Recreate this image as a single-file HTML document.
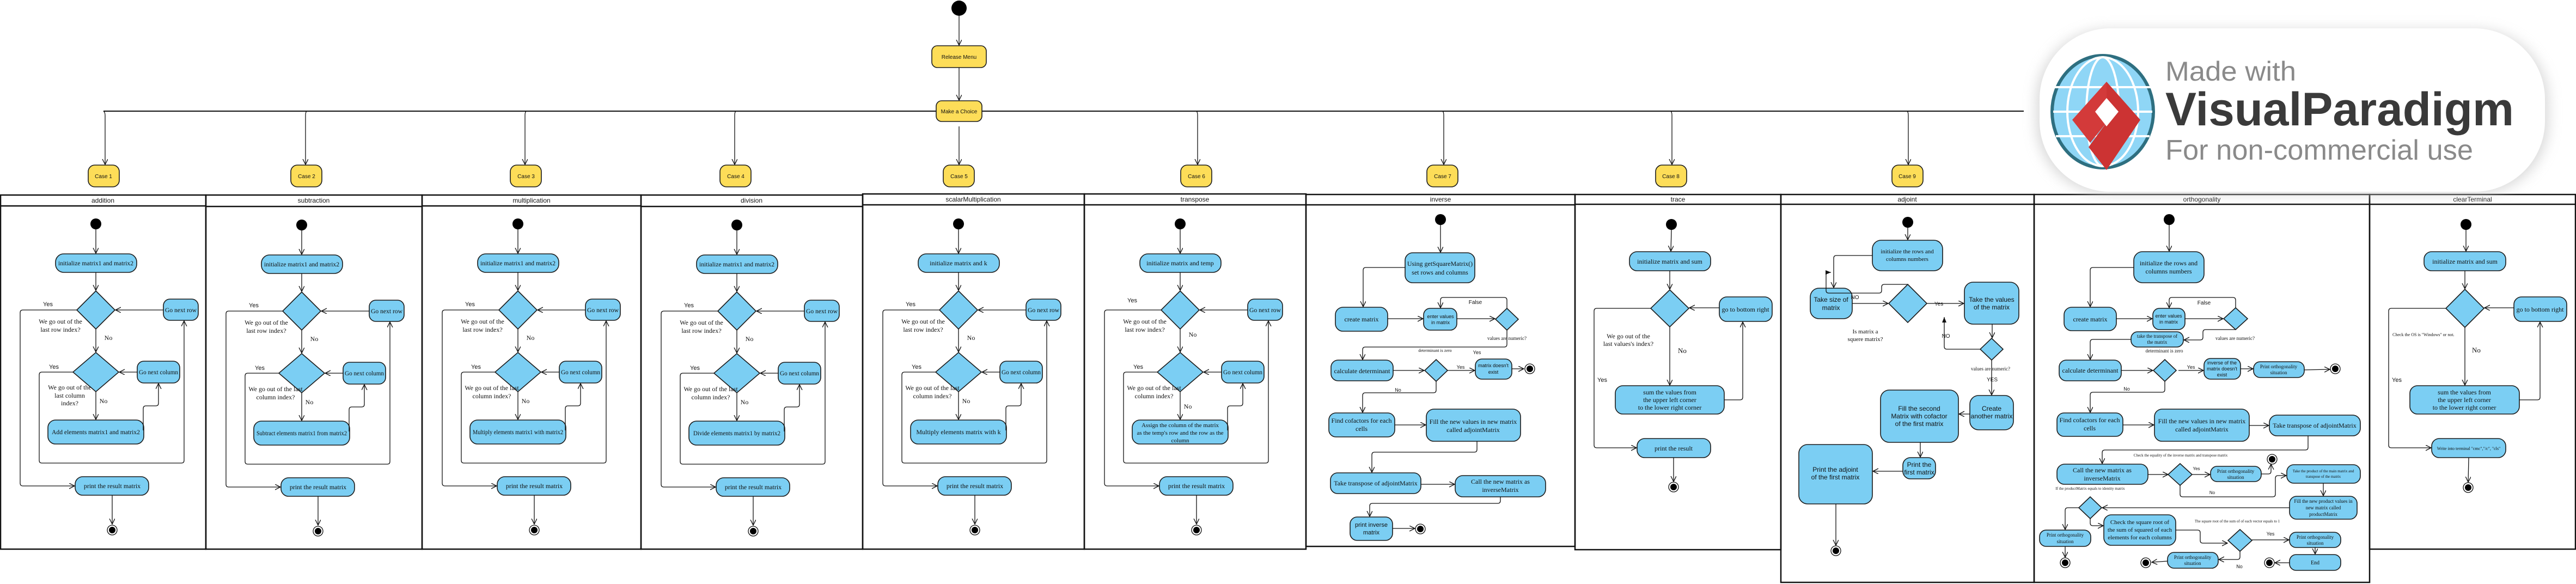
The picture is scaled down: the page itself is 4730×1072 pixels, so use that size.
<!DOCTYPE html>
<html><head><meta charset="utf-8"><style>
html,body{margin:0;padding:0;background:#fff;}
svg{display:block;}
.b{fill:#7BCEF3;stroke:#1c1c1c;stroke-width:1.6;}
.y{fill:#FDDD58;stroke:#1c1c1c;stroke-width:1.6;}
.l{fill:none;stroke:#111;stroke-width:1.3;}
.s{font-family:"Liberation Serif",serif;font-size:12px;fill:#111;text-anchor:middle;}
.ss{font-family:"Liberation Sans",sans-serif;font-size:11px;fill:#111;text-anchor:middle;}
.h{font-family:"Liberation Sans",sans-serif;font-size:12px;fill:#111;text-anchor:middle;}
.ln{fill:none;stroke:#111;stroke-width:2.5;}
</style></head><body>
<svg width="4730" height="1072" viewBox="0 0 4730 1072" xmlns="http://www.w3.org/2000/svg">
<defs>
<marker id="a" markerWidth="12" markerHeight="12" refX="10" refY="5" orient="auto" markerUnits="userSpaceOnUse"><path d="M0,0 L10,5 L0,10" fill="none" stroke="#111" stroke-width="1.3"/></marker>
<marker id="f" markerWidth="12" markerHeight="12" refX="10" refY="5" orient="auto" markerUnits="userSpaceOnUse"><path d="M0,1 L10,5 L0,9 Z" fill="#111"/></marker>
<filter id="sh" x="-10%" y="-20%" width="120%" height="140%"><feGaussianBlur stdDeviation="12"/></filter>
<g id="tpl">
 <circle cx="176" cy="411" r="10" fill="#000"/>
 <line class="l" x1="176" y1="421" x2="176" y2="465" marker-end="url(#a)"/>
 <rect class="b" x="102" y="466" width="149" height="34" rx="15"/>
 <line class="l" x1="176" y1="500" x2="176" y2="533" marker-end="url(#a)"/>
 <polygon class="b" points="176,534 211,569 176,604 141,569"/>
 <rect class="b" x="300" y="549" width="64" height="39" rx="12"/>
 <line class="l" x1="300" y1="569" x2="212" y2="569" marker-end="url(#a)"/>
 <path class="l" d="M141,569 H42 Q37,569 37,574 V887 Q37,892 42,892 H137" marker-end="url(#a)"/>
 <line class="l" x1="176" y1="604" x2="176" y2="646" marker-end="url(#a)"/>
 <polygon class="b" points="176,647 218,683 176,719 134,683"/>
 <rect class="b" x="252" y="663" width="78" height="40" rx="12"/>
 <line class="l" x1="252" y1="683" x2="219" y2="683" marker-end="url(#a)"/>
 <path class="l" d="M134,683 H77 Q72,683 72,688 V845 Q72,850 77,850 H333 Q338,850 338,845 V589" marker-end="url(#a)"/>
 <line class="l" x1="176" y1="719" x2="176" y2="770" marker-end="url(#a)"/>
 <rect class="b" x="88" y="771" width="176" height="44" rx="14"/>
 <path class="l" d="M263,790 V750 Q263,745 268,745 H286 Q291,745 291,740 V704" marker-end="url(#a)"/>
 <rect class="b" x="138" y="875" width="135" height="34" rx="14"/>
 <line class="l" x1="206" y1="909" x2="206" y2="962" marker-end="url(#a)"/>
 <circle cx="206" cy="973" r="9" fill="#fff" stroke="#111" stroke-width="1.3"/>
 <circle cx="206" cy="973" r="6" fill="#000"/>
</g>
</defs>
<rect width="4730" height="1072" fill="#fff"/>

<!-- top flow -->
<circle cx="1761" cy="15" r="14" fill="#000"/>
<line class="l" x1="1761" y1="29" x2="1761" y2="83" marker-end="url(#a)"/>
<rect class="y" x="1711" y="84" width="100" height="40" rx="10"/>
<text class="ss" x="1761" y="108" style="font-size:10px">Release Menu</text>
<line class="l" x1="1761" y1="124" x2="1761" y2="184" marker-end="url(#a)"/>
<line x1="190" y1="204" x2="3716" y2="204" stroke="#111" stroke-width="2"/>
<rect class="y" x="1719" y="185" width="84" height="38" rx="10"/>
<text class="ss" x="1761" y="208" style="font-size:10px">Make a Choice</text>
<g class="l">
<path d="M190,204 Q193,206 193,212 V302" marker-end="url(#a)"/>
<path d="M563,204 Q561,206 561,212 V302" marker-end="url(#a)"/>
<path d="M966,204 Q964,206 964,212 V302" marker-end="url(#a)"/>
<path d="M1351,204 Q1349,206 1349,212 V302" marker-end="url(#a)"/>
<path d="M1761,232 V302" marker-end="url(#a)"/>
<path d="M2197,204 Q2199,206 2199,212 V302" marker-end="url(#a)"/>
<path d="M2649,204 Q2651,206 2651,212 V302" marker-end="url(#a)"/>
<path d="M3068,204 Q3070,206 3070,212 V302" marker-end="url(#a)"/>
<path d="M3502,204 Q3504,206 3504,212 V302" marker-end="url(#a)"/>
</g>
<g>
<rect class="y" x="162" y="303" width="57" height="40" rx="12"/><text class="ss" x="190" y="327" style="font-size:10px">Case 1</text>
<rect class="y" x="534" y="303" width="57" height="40" rx="12"/><text class="ss" x="563" y="327" style="font-size:10px">Case 2</text>
<rect class="y" x="937" y="303" width="57" height="40" rx="12"/><text class="ss" x="966" y="327" style="font-size:10px">Case 3</text>
<rect class="y" x="1322" y="303" width="57" height="40" rx="12"/><text class="ss" x="1351" y="327" style="font-size:10px">Case 4</text>
<rect class="y" x="1732" y="303" width="57" height="40" rx="12"/><text class="ss" x="1761" y="327" style="font-size:10px">Case 5</text>
<rect class="y" x="2168" y="303" width="57" height="40" rx="12"/><text class="ss" x="2197" y="327" style="font-size:10px">Case 6</text>
<rect class="y" x="2620" y="303" width="57" height="40" rx="12"/><text class="ss" x="2649" y="327" style="font-size:10px">Case 7</text>
<rect class="y" x="3040" y="303" width="57" height="40" rx="12"/><text class="ss" x="3068" y="327" style="font-size:10px">Case 8</text>
<rect class="y" x="3474" y="303" width="57" height="40" rx="12"/><text class="ss" x="3502" y="327" style="font-size:10px">Case 9</text>
</g>

<!-- panels -->
<g>
<rect class="ln" x="1" y="358" width="377" height="650"/><line class="ln" x1="1" y1="378" x2="378" y2="378"/><text class="h" x="189" y="372">addition</text>
<rect class="ln" x="378" y="358" width="397" height="650"/><line class="ln" x1="378" y1="379" x2="775" y2="379"/><text class="h" x="576" y="372">subtraction</text>
<rect class="ln" x="775" y="358" width="402" height="650"/><line class="ln" x1="775" y1="378" x2="1177" y2="378"/><text class="h" x="976" y="372">multiplication</text>
<rect class="ln" x="1177" y="358" width="407" height="650"/><line class="ln" x1="1177" y1="379" x2="1584" y2="379"/><text class="h" x="1380" y="372">division</text>
<rect class="ln" x="1584" y="356" width="407" height="652"/><line class="ln" x1="1584" y1="376" x2="1991" y2="376"/><text class="h" x="1787" y="370">scalarMultiplication</text>
<rect class="ln" x="1991" y="356" width="407" height="652"/><line class="ln" x1="1991" y1="376" x2="2398" y2="376"/><text class="h" x="2194" y="370">transpose</text>
<rect class="ln" x="2398" y="357" width="494" height="646"/><line class="ln" x1="2398" y1="376" x2="2892" y2="376"/><text class="h" x="2645" y="370">inverse</text>
<rect class="ln" x="2892" y="357" width="378" height="652"/><line class="ln" x1="2892" y1="375" x2="3270" y2="375"/><text class="h" x="3081" y="370">trace</text>
<rect class="ln" x="3270" y="357" width="465" height="712"/><line class="ln" x1="3270" y1="375" x2="3735" y2="375"/><text class="h" x="3502" y="370">adjoint</text>
<rect class="ln" x="3735" y="357" width="616" height="712"/><line class="ln" x1="3735" y1="375" x2="4351" y2="375"/><text class="h" x="4043" y="370">orthogonality</text>
<rect class="ln" x="4351" y="357" width="378" height="651"/><line class="ln" x1="4351" y1="375" x2="4729" y2="375"/><text class="h" x="4540" y="370">clearTerminal</text>
</g>

<!-- panels 1-6 -->
<use href="#tpl" x="0" y="0"/>
<g>
<text class="s" x="176" y="487" textLength="138" lengthAdjust="spacingAndGlyphs">initialize matrix1 and matrix2</text>
<text class="s" x="332" y="573" textLength="58" lengthAdjust="spacingAndGlyphs">Go next row</text>
<text class="s" x="291" y="687" textLength="72" lengthAdjust="spacingAndGlyphs">Go next column</text>
<text class="s" x="176" y="797" textLength="162" lengthAdjust="spacingAndGlyphs">Add elements matrix1 and matrix2</text>
<text class="s" x="206" y="896">print the result matrix</text>
<text class="ss" x="88" y="562">Yes</text><text class="s" x="111" y="594">We go out of the</text><text class="s" x="111" y="609">last row index?</text><text class="s" x="199" y="624">No</text>
<text class="ss" x="99" y="677">Yes</text><text class="s" x="128" y="715">We go out of the</text><text class="s" x="128" y="730">last column</text><text class="s" x="128" y="744">index?</text><text class="s" x="190" y="740">No</text>
</g>
<use href="#tpl" x="378" y="2"/>
<g transform="translate(378,2)">
<text class="s" x="176" y="487" textLength="138" lengthAdjust="spacingAndGlyphs">initialize matrix1 and matrix2</text>
<text class="s" x="332" y="573" textLength="58" lengthAdjust="spacingAndGlyphs">Go next row</text>
<text class="s" x="291" y="687" textLength="72" lengthAdjust="spacingAndGlyphs">Go next column</text>
<text class="s" x="176" y="797" textLength="166" lengthAdjust="spacingAndGlyphs">Subtract elements matrix1 from matrix2</text>
<text class="s" x="206" y="896">print the result matrix</text>
<text class="ss" x="88" y="562">Yes</text><text class="s" x="111" y="594">We go out of the</text><text class="s" x="111" y="609">last row index?</text><text class="s" x="199" y="624">No</text>
<text class="ss" x="99" y="677">Yes</text><text class="s" x="128" y="716">We go out of the last</text><text class="s" x="128" y="731">column index?</text><text class="s" x="190" y="740">No</text>
</g>
<use href="#tpl" x="775" y="0"/>
<g transform="translate(775,0)">
<text class="s" x="176" y="487" textLength="138" lengthAdjust="spacingAndGlyphs">initialize matrix1 and matrix2</text>
<text class="s" x="332" y="573" textLength="58" lengthAdjust="spacingAndGlyphs">Go next row</text>
<text class="s" x="291" y="687" textLength="72" lengthAdjust="spacingAndGlyphs">Go next column</text>
<text class="s" x="176" y="797" textLength="166" lengthAdjust="spacingAndGlyphs">Multiply elements matrix1 with matrix2</text>
<text class="s" x="206" y="896">print the result matrix</text>
<text class="ss" x="88" y="562">Yes</text><text class="s" x="111" y="594">We go out of the</text><text class="s" x="111" y="609">last row index?</text><text class="s" x="199" y="624">No</text>
<text class="ss" x="99" y="677">Yes</text><text class="s" x="128" y="716">We go out of the last</text><text class="s" x="128" y="731">column index?</text><text class="s" x="190" y="740">No</text>
</g>
<use href="#tpl" x="1177" y="2"/>
<g transform="translate(1177,2)">
<text class="s" x="176" y="487" textLength="138" lengthAdjust="spacingAndGlyphs">initialize matrix1 and matrix2</text>
<text class="s" x="332" y="573" textLength="58" lengthAdjust="spacingAndGlyphs">Go next row</text>
<text class="s" x="291" y="687" textLength="72" lengthAdjust="spacingAndGlyphs">Go next column</text>
<text class="s" x="176" y="797" textLength="160" lengthAdjust="spacingAndGlyphs">Divide elements matrix1 by matrix2</text>
<text class="s" x="206" y="896">print the result matrix</text>
<text class="ss" x="88" y="562">Yes</text><text class="s" x="111" y="594">We go out of the</text><text class="s" x="111" y="609">last row index?</text><text class="s" x="199" y="624">No</text>
<text class="ss" x="99" y="677">Yes</text><text class="s" x="128" y="716">We go out of the last</text><text class="s" x="128" y="731">column index?</text><text class="s" x="190" y="740">No</text>
</g>
<use href="#tpl" x="1584" y="0"/>
<g transform="translate(1584,0)">
<text class="s" x="176" y="487">initialize matrix and k</text>
<text class="s" x="332" y="573" textLength="58" lengthAdjust="spacingAndGlyphs">Go next row</text>
<text class="s" x="291" y="687" textLength="72" lengthAdjust="spacingAndGlyphs">Go next column</text>
<text class="s" x="176" y="797">Multiply elements matrix with k</text>
<text class="s" x="206" y="896">print the result matrix</text>
<text class="ss" x="88" y="562">Yes</text><text class="s" x="111" y="594">We go out of the</text><text class="s" x="111" y="609">last row index?</text><text class="s" x="199" y="624">No</text>
<text class="ss" x="99" y="677">Yes</text><text class="s" x="128" y="716">We go out of the last</text><text class="s" x="128" y="731">column index?</text><text class="s" x="190" y="740">No</text>
</g>
<use href="#tpl" x="1991" y="0"/>
<g transform="translate(1991,0)">
<text class="s" x="176" y="487">initialize matrix and temp</text>
<text class="s" x="332" y="573" textLength="58" lengthAdjust="spacingAndGlyphs">Go next row</text>
<text class="s" x="291" y="687" textLength="72" lengthAdjust="spacingAndGlyphs">Go next column</text>
<text class="s" x="176" y="784" style="font-size:11px">Assign the column of the matrix</text>
<text class="s" x="176" y="798" style="font-size:11px">as the temp's row and the row as the</text>
<text class="s" x="176" y="812" style="font-size:11px">column</text>
<text class="s" x="206" y="896">print the result matrix</text>
<text class="ss" x="88" y="555">Yes</text><text class="s" x="111" y="594">We go out of the</text><text class="s" x="111" y="609">last row index?</text><text class="s" x="199" y="618">No</text>
<text class="ss" x="99" y="677">Yes</text><text class="s" x="128" y="716">We go out of the last</text><text class="s" x="128" y="731">column index?</text><text class="s" x="190" y="750">No</text>
</g>

<!-- inverse -->
<g>
<circle cx="2645" cy="403" r="10" fill="#000"/>
<line class="l" x1="2645" y1="413" x2="2645" y2="463" marker-end="url(#a)"/>
<rect class="b" x="2580" y="464" width="128" height="55" rx="14"/>
<text class="s" x="2644" y="488">Using getSquareMatrix()</text><text class="s" x="2644" y="504">set rows and columns</text>
<path class="l" d="M2580,491 H2508 Q2503,491 2503,496 V563" marker-end="url(#a)"/>
<rect class="b" x="2452" y="564" width="96" height="44" rx="14"/><text class="s" x="2500" y="590">create matrix</text>
<line class="l" x1="2548" y1="585" x2="2613" y2="585" marker-end="url(#a)"/>
<rect class="b" x="2614" y="566" width="61" height="40" rx="12"/>
<text class="ss" x="2645" y="584" style="font-size:9px">enter values</text><text class="ss" x="2645" y="595" style="font-size:9px">in matrix</text>
<line class="l" x1="2675" y1="585" x2="2745" y2="585" marker-end="url(#a)"/>
<polygon class="b" points="2767,566 2788,586 2767,606 2746,586"/>
<path class="l" d="M2767,566 V551 Q2767,546 2762,546 H2650 Q2645,546 2645,551 V565" marker-end="url(#a)"/>
<text class="ss" x="2709" y="558" style="font-size:10px">False</text>
<text class="s" x="2767" y="624" style="font-size:9px">values are numeric?</text>
<path class="l" d="M2767,606 V632 Q2767,637 2762,637 H2507 Q2502,637 2502,642 V660" marker-end="url(#a)"/>
<text class="s" x="2635" y="646" style="font-size:8px">determinant is zero</text>
<text class="ss" x="2712" y="650" style="font-size:9px">Yes</text>
<rect class="b" x="2444" y="661" width="114" height="38" rx="13"/><text class="s" x="2501" y="685">calculate determinant</text>
<line class="l" x1="2558" y1="680" x2="2615" y2="680" marker-end="url(#a)"/>
<polygon class="b" points="2637,660 2658,680 2637,700 2616,680"/>
<line class="l" x1="2658" y1="680" x2="2708" y2="680" marker-end="url(#a)"/>
<text class="ss" x="2682" y="677" style="font-size:9px">Yes</text>
<rect class="b" x="2709" y="659" width="67" height="37" rx="12"/>
<text class="ss" x="2742" y="674" style="font-size:9px">matrix doesn't</text><text class="ss" x="2742" y="686" style="font-size:9px">exist</text>
<line class="l" x1="2776" y1="677" x2="2798" y2="677" marker-end="url(#a)"/>
<circle cx="2809" cy="677" r="9" fill="#fff" stroke="#111" stroke-width="1.3"/><circle cx="2809" cy="677" r="6" fill="#000"/>
<path class="l" d="M2637,700 V716 Q2637,721 2632,721 H2507 Q2502,721 2502,726 V757" marker-end="url(#a)"/>
<text class="ss" x="2567" y="719" style="font-size:9px">No</text>
<rect class="b" x="2440" y="758" width="121" height="44" rx="13"/>
<text class="s" x="2500" y="776">Find cofactors for each</text><text class="s" x="2500" y="791">cells</text>
<line class="l" x1="2561" y1="780" x2="2618" y2="780" marker-end="url(#a)"/>
<rect class="b" x="2619" y="751" width="173" height="59" rx="14"/>
<text class="s" x="2705" y="778">Fill the new values in new matrix</text><text class="s" x="2705" y="793">called adjointMatrix</text>
<path class="l" d="M2712,810 V825 Q2712,830 2707,830 H2524 Q2519,830 2519,835 V867" marker-end="url(#a)"/>
<rect class="b" x="2443" y="868" width="166" height="38" rx="13"/><text class="s" x="2526" y="891">Take transpose of adjointMatrix</text>
<line class="l" x1="2609" y1="889" x2="2671" y2="889" marker-end="url(#a)"/>
<rect class="b" x="2672" y="873" width="166" height="39" rx="14"/>
<text class="s" x="2755" y="888">Call the new matrix as</text><text class="s" x="2755" y="903">inverseMatrix</text>
<path class="l" d="M2755,912 V919 Q2755,924 2750,924 H2520 Q2515,924 2515,929 V948" marker-end="url(#a)"/>
<rect class="b" x="2479" y="949" width="78" height="43" rx="13"/>
<text class="ss" x="2518" y="967" style="font-size:11px">print inverse</text><text class="ss" x="2518" y="981" style="font-size:11px">matrix</text>
<line class="l" x1="2557" y1="970" x2="2598" y2="970" marker-end="url(#a)"/>
<circle cx="2608" cy="971" r="9" fill="#fff" stroke="#111" stroke-width="1.3"/><circle cx="2608" cy="971" r="6" fill="#000"/>
</g>

<!-- trace -->
<g>
<circle cx="3069" cy="412" r="10" fill="#000"/>
<line class="l" x1="3069" y1="422" x2="3068" y2="461" marker-end="url(#a)"/>
<rect class="b" x="2992" y="462" width="149" height="35" rx="14"/><text class="s" x="3066" y="484">initialize matrix and sum</text>
<line class="l" x1="3066" y1="497" x2="3066" y2="531" marker-end="url(#a)"/>
<polygon class="b" points="3066,532 3101,566 3066,600 3031,566"/>
<rect class="b" x="3157" y="545" width="97" height="45" rx="14"/><text class="s" x="3205" y="572">go to bottom right</text>
<line class="l" x1="3157" y1="565" x2="3102" y2="565" marker-end="url(#a)"/>
<line class="l" x1="3066" y1="600" x2="3066" y2="707" marker-end="url(#a)"/>
<rect class="b" x="2966" y="708" width="200" height="52" rx="14"/>
<text class="s" x="3066" y="724">sum the values from</text><text class="s" x="3066" y="738">the upper left corner</text><text class="s" x="3066" y="752">to the lower right corner</text>
<path class="l" d="M3166,734 H3195 Q3200,734 3200,729 V591" marker-end="url(#a)"/>
<path class="l" d="M3031,566 H2932 Q2927,566 2927,571 V817 Q2927,822 2932,822 H3005" marker-end="url(#a)"/>
<rect class="b" x="3006" y="805" width="135" height="35" rx="14"/><text class="s" x="3073" y="827">print the result</text>
<line class="l" x1="3073" y1="840" x2="3073" y2="884" marker-end="url(#a)"/>
<circle cx="3073" cy="894" r="9" fill="#fff" stroke="#111" stroke-width="1.3"/><circle cx="3073" cy="894" r="6" fill="#000"/>
<text class="s" x="2990" y="621">We go out of the</text><text class="s" x="2990" y="635">last values's index?</text>
<text class="s" x="3089" y="648" style="font-size:13px">No</text>
<text class="ss" x="2942" y="701">Yes</text>
</g>

<!-- adjoint -->
<g>
<circle cx="3503" cy="408" r="10" fill="#000"/>
<line class="l" x1="3503" y1="418" x2="3503" y2="440" marker-end="url(#a)"/>
<rect class="b" x="3438" y="441" width="129" height="56" rx="16"/>
<text class="s" x="3502" y="465" style="font-size:11px">initialize the rows and</text><text class="s" x="3502" y="479" style="font-size:11px">columns numbers</text>
<path class="l" d="M3438,469 H3372 Q3367,469 3367,474 V528" marker-end="url(#a)"/>
<rect class="b" x="3324" y="529" width="77" height="56" rx="16"/>
<text class="ss" x="3362" y="554" style="font-size:12px">Take size of</text><text class="ss" x="3362" y="569" style="font-size:12px">matrix</text>
<path class="l" d="M3503,522 H3460 Q3455,522 3455,527 V533 Q3455,538 3450,538 H3358 Q3353,538 3353,533 V505 Q3353,500 3358,500 H3362" marker-end="url(#f)"/>
<text class="ss" x="3406" y="549" style="font-size:10px">NO</text>
<line class="l" x1="3401" y1="557" x2="3467" y2="557" marker-end="url(#a)"/>
<polygon class="b" points="3503,522 3538,557 3503,592 3468,557"/>
<text class="s" x="3425" y="612" style="font-size:11px">Is matrix a</text><text class="s" x="3425" y="626" style="font-size:11px">squere matrix?</text>
<line class="l" x1="3538" y1="557" x2="3606" y2="557" marker-end="url(#a)"/>
<text class="ss" x="3560" y="561" style="font-size:10px">Yes</text>
<rect class="b" x="3607" y="518" width="100" height="77" rx="16"/>
<text class="ss" x="3657" y="554" style="font-size:12px">Take the values</text><text class="ss" x="3657" y="568" style="font-size:12px">of the matrix</text>
<line class="l" x1="3658" y1="595" x2="3658" y2="620" marker-end="url(#a)"/>
<polygon class="b" points="3657,621 3678,641 3657,661 3636,641"/>
<path class="l" d="M3636,641 H3575 Q3570,641 3570,636 V582" marker-end="url(#f)"/>
<text class="ss" x="3573" y="620" style="font-size:10px">NO</text>
<text class="s" x="3655" y="680" style="font-size:9px">values are numeric?</text>
<text class="ss" x="3658" y="700" style="font-size:10px">YES</text>
<line class="l" x1="3657" y1="661" x2="3657" y2="725" marker-end="url(#a)"/>
<rect class="b" x="3617" y="726" width="80" height="63" rx="16"/>
<text class="ss" x="3657" y="754" style="font-size:12px">Create</text><text class="ss" x="3657" y="768" style="font-size:12px">another matrix</text>
<line class="l" x1="3617" y1="760" x2="3597" y2="760" marker-end="url(#a)"/>
<rect class="b" x="3453" y="716" width="143" height="96" rx="16"/>
<text class="ss" x="3524" y="754" style="font-size:12px">Fill the second</text><text class="ss" x="3524" y="768" style="font-size:12px">Matrix with cofactor</text><text class="ss" x="3524" y="782" style="font-size:12px">of the first matrix</text>
<line class="l" x1="3526" y1="812" x2="3526" y2="839" marker-end="url(#a)"/>
<rect class="b" x="3494" y="840" width="60" height="39" rx="14"/>
<text class="ss" x="3524" y="857" style="font-size:12px">Print the</text><text class="ss" x="3524" y="871" style="font-size:12px">first matrix</text>
<line class="l" x1="3494" y1="865" x2="3439" y2="865" marker-end="url(#a)"/>
<rect class="b" x="3303" y="816" width="135" height="109" rx="16"/>
<text class="ss" x="3370" y="866" style="font-size:12px">Print the adjoint</text><text class="ss" x="3370" y="880" style="font-size:12px">of the first matrix</text>
<line class="l" x1="3371" y1="925" x2="3371" y2="1001" marker-end="url(#a)"/>
<circle cx="3371" cy="1011" r="9" fill="#fff" stroke="#111" stroke-width="1.3"/><circle cx="3371" cy="1011" r="6" fill="#000"/>
</g>

<!-- orthogonality -->
<g>
<circle cx="3983" cy="403" r="10" fill="#000"/>
<line class="l" x1="3983" y1="413" x2="3983" y2="461" marker-end="url(#a)"/>
<rect class="b" x="3918" y="462" width="129" height="57" rx="16"/>
<text class="s" x="3982" y="487">initialize the rows and</text><text class="s" x="3982" y="502">columns numbers</text>
<path class="l" d="M3918,491 H3843 Q3838,491 3838,496 V563" marker-end="url(#a)"/>
<rect class="b" x="3790" y="564" width="96" height="43" rx="14"/><text class="s" x="3838" y="590">create matrix</text>
<line class="l" x1="3886" y1="585" x2="3952" y2="585" marker-end="url(#a)"/>
<rect class="b" x="3953" y="566" width="59" height="39" rx="12"/>
<text class="ss" x="3982" y="583" style="font-size:9px">enter values</text><text class="ss" x="3982" y="594" style="font-size:9px">in matrix</text>
<line class="l" x1="4012" y1="585" x2="4082" y2="585" marker-end="url(#a)"/>
<polygon class="b" points="4105,565 4127,585 4105,605 4083,585"/>
<path class="l" d="M4105,565 V551 Q4105,546 4100,546 H3988 Q3983,546 3983,551 V565" marker-end="url(#a)"/>
<text class="ss" x="4047" y="559" style="font-size:10px">False</text>
<path class="l" d="M4105,605 H4050 Q4045,605 4045,610 V619 Q4045,624 4040,624 H4010" marker-end="url(#a)"/>
<text class="s" x="4104" y="624" style="font-size:9px">values are numeric?</text>
<rect class="b" x="3913" y="609" width="96" height="28" rx="12"/>
<text class="s" x="3961" y="620" style="font-size:9px">take the transpose of</text><text class="s" x="3961" y="631" style="font-size:9px">the matrix</text>
<text class="s" x="3974" y="647" style="font-size:9px">determinant is zero</text>
<path class="l" d="M3913,623 H3843 Q3838,623 3838,628 V660" marker-end="url(#a)"/>
<rect class="b" x="3781" y="661" width="114" height="38" rx="13"/><text class="s" x="3838" y="684">calculate determinant</text>
<line class="l" x1="3895" y1="680" x2="3953" y2="680" marker-end="url(#a)"/>
<polygon class="b" points="3975,660 3996,680 3975,700 3954,680"/>
<line class="l" x1="4000" y1="680" x2="4046" y2="680" marker-end="url(#a)"/>
<text class="ss" x="4023" y="677" style="font-size:9px">Yes</text>
<rect class="b" x="4047" y="658" width="67" height="38" rx="12"/>
<text class="ss" x="4080" y="669" style="font-size:9px">inverse of the</text><text class="ss" x="4080" y="680" style="font-size:9px">matrix doesn't</text><text class="ss" x="4080" y="691" style="font-size:9px">exist</text>
<line class="l" x1="4114" y1="677" x2="4137" y2="677" marker-end="url(#a)"/>
<rect class="b" x="4138" y="664" width="93" height="29" rx="12"/>
<text class="s" x="4184" y="676" style="font-size:9px">Print orthogonality</text><text class="s" x="4184" y="687" style="font-size:9px">situation</text>
<line class="l" x1="4231" y1="679" x2="4278" y2="678" marker-end="url(#a)"/>
<circle cx="4288" cy="677" r="9" fill="#fff" stroke="#111" stroke-width="1.3"/><circle cx="4288" cy="677" r="6" fill="#000"/>
<path class="l" d="M3975,700 V715 Q3975,720 3970,720 H3843 Q3838,720 3838,725 V757" marker-end="url(#a)"/>
<text class="ss" x="3905" y="717" style="font-size:9px">No</text>
<rect class="b" x="3777" y="758" width="121" height="43" rx="13"/>
<text class="s" x="3837" y="775">Find cofactors for each</text><text class="s" x="3837" y="790">cells</text>
<line class="l" x1="3898" y1="780" x2="3955" y2="780" marker-end="url(#a)"/>
<rect class="b" x="3956" y="751" width="174" height="59" rx="14"/>
<text class="s" x="4043" y="777">Fill the new values in new matrix</text><text class="s" x="4043" y="792">called adjointMatrix</text>
<line class="l" x1="4130" y1="781" x2="4166" y2="781" marker-end="url(#a)"/>
<rect class="b" x="4167" y="762" width="167" height="38" rx="14"/><text class="s" x="4250" y="785">Take transpose of adjointMatrix</text>
<path class="l" d="M4238,800 V821 Q4238,826 4233,826 H3865 Q3860,826 3860,831 V851" marker-end="url(#a)"/>
<text class="s" x="4004" y="838" style="font-size:7px">Check the equality of the inverse matrix and transpose matrix</text>
<rect class="b" x="3777" y="852" width="167" height="37" rx="14"/>
<text class="s" x="3860" y="867">Call the new matrix as</text><text class="s" x="3860" y="882">inverseMatrix</text>
<text class="s" x="3838" y="899" style="font-size:7px">If the productMatrix equals to identity matrix</text>
<line class="l" x1="3944" y1="871" x2="3981" y2="871" marker-end="url(#a)"/>
<polygon class="b" points="4003,851 4025,871 4003,891 3981,871"/>
<line class="l" x1="4025" y1="871" x2="4058" y2="871" marker-end="url(#a)"/>
<text class="ss" x="4033" y="863" style="font-size:8px">Yes</text>
<rect class="b" x="4059" y="856" width="93" height="28" rx="12"/>
<text class="s" x="4105" y="868" style="font-size:9px">Print orthogonality</text><text class="s" x="4105" y="879" style="font-size:9px">situation</text>
<path class="l" d="M4152,870 H4165 Q4170,870 4170,865 V852" marker-end="url(#a)"/>
<circle cx="4172" cy="843" r="9" fill="#fff" stroke="#111" stroke-width="1.3"/><circle cx="4172" cy="843" r="6" fill="#000"/>
<path class="l" d="M4003,891 V907 Q4003,912 4008,912 H4173 Q4178,912 4178,907 V878 Q4178,873 4183,873 H4198" marker-end="url(#a)"/>
<text class="ss" x="4062" y="907" style="font-size:8px">No</text>
<rect class="b" x="4199" y="853" width="135" height="34" rx="13"/>
<text class="s" x="4266" y="867" style="font-size:7px">Take the product of the main matrix and</text><text class="s" x="4266" y="877" style="font-size:7px">transpose of the matrix</text>
<line class="l" x1="4266" y1="887" x2="4266" y2="910" marker-end="url(#a)"/>
<rect class="b" x="4204" y="911" width="124" height="42" rx="13"/>
<text class="s" x="4266" y="923" style="font-size:9px">Fill the new product values in</text><text class="s" x="4266" y="935" style="font-size:9px">new matrix called</text><text class="s" x="4266" y="947" style="font-size:9px">productMatrix</text>
<line class="l" x1="4204" y1="932" x2="3860" y2="932" marker-end="url(#a)"/>
<polygon class="b" points="3838,912 3859,932 3838,952 3817,932"/>
<path class="l" d="M3817,932 H3797 Q3792,932 3792,937 V972" marker-end="url(#a)"/>
<rect class="b" x="3745" y="973" width="94" height="30" rx="12"/>
<text class="s" x="3792" y="985" style="font-size:9px">Print orthogonality</text><text class="s" x="3792" y="997" style="font-size:9px">situation</text>
<line class="l" x1="3792" y1="1003" x2="3792" y2="1023" marker-end="url(#a)"/>
<circle cx="3792" cy="1033" r="9" fill="#fff" stroke="#111" stroke-width="1.3"/><circle cx="3792" cy="1033" r="6" fill="#000"/>
<path class="l" d="M3838,952 V960 Q3838,965 3843,965 H3862" marker-end="url(#a)"/>
<rect class="b" x="3863" y="945" width="132" height="56" rx="14"/>
<text class="s" x="3929" y="962" style="font-size:11px">Check the square root of</text><text class="s" x="3929" y="976" style="font-size:11px">the sum of squared of each</text><text class="s" x="3929" y="990" style="font-size:11px">elements for each columns</text>
<text class="s" x="4108" y="959" style="font-size:7px">The square root of the sum of of each vector equals to 1</text>
<path class="l" d="M3995,973 H4035 Q4040,973 4040,978 V992 Q4040,997 4045,997 H4090" marker-end="url(#a)"/>
<polygon class="b" points="4113,972 4135,992 4113,1012 4091,992"/>
<line class="l" x1="4135" y1="991" x2="4203" y2="991" marker-end="url(#a)"/>
<text class="ss" x="4169" y="983" style="font-size:9px">Yes</text>
<rect class="b" x="4204" y="977" width="94" height="28" rx="12"/>
<text class="s" x="4251" y="989" style="font-size:9px">Print orthogonality</text><text class="s" x="4251" y="1000" style="font-size:9px">situation</text>
<line class="l" x1="4251" y1="1005" x2="4251" y2="1017" marker-end="url(#a)"/>
<rect class="b" x="4204" y="1018" width="94" height="29" rx="12"/>
<text class="s" x="4251" y="1036" style="font-size:10px">End</text>
<line class="l" x1="4204" y1="1033" x2="4177" y2="1033" marker-end="url(#a)"/>
<circle cx="4167" cy="1033" r="9" fill="#fff" stroke="#111" stroke-width="1.3"/><circle cx="4167" cy="1033" r="6" fill="#000"/>
<path class="l" d="M4113,1012 V1022 Q4113,1027 4108,1027 H4074" marker-end="url(#a)"/>
<text class="ss" x="4112" y="1043" style="font-size:9px">No</text>
<rect class="b" x="3980" y="1014" width="93" height="29" rx="12"/>
<text class="s" x="4026" y="1026" style="font-size:9px">Print orthogonality</text><text class="s" x="4026" y="1037" style="font-size:9px">situation</text>
<line class="l" x1="3980" y1="1030" x2="3951" y2="1032" marker-end="url(#a)"/>
<circle cx="3940" cy="1033" r="9" fill="#fff" stroke="#111" stroke-width="1.3"/><circle cx="3940" cy="1033" r="6" fill="#000"/>
</g>

<!-- clearTerminal -->
<g>
<circle cx="4528" cy="412" r="10" fill="#000"/>
<line class="l" x1="4528" y1="422" x2="4528" y2="461" marker-end="url(#a)"/>
<rect class="b" x="4451" y="462" width="150" height="35" rx="14"/><text class="s" x="4526" y="484">initialize matrix and sum</text>
<line class="l" x1="4526" y1="497" x2="4526" y2="530" marker-end="url(#a)"/>
<polygon class="b" points="4526,531 4561,566 4526,601 4491,566"/>
<rect class="b" x="4616" y="545" width="97" height="45" rx="14"/><text class="s" x="4664" y="572">go to bottom right</text>
<line class="l" x1="4616" y1="565" x2="4562" y2="565" marker-end="url(#a)"/>
<line class="l" x1="4526" y1="601" x2="4526" y2="707" marker-end="url(#a)"/>
<rect class="b" x="4425" y="708" width="201" height="52" rx="14"/>
<text class="s" x="4525" y="724">sum the values from</text><text class="s" x="4525" y="738">the upper left corner</text><text class="s" x="4525" y="752">to the lower right corner</text>
<path class="l" d="M4626,734 H4659 Q4664,734 4664,729 V591" marker-end="url(#a)"/>
<path class="l" d="M4491,566 H4391 Q4386,566 4386,571 V817 Q4386,822 4391,822 H4464" marker-end="url(#a)"/>
<rect class="b" x="4465" y="805" width="136" height="35" rx="14"/>
<text class="s" x="4533" y="826" style="font-size:8px">Write into terminal "cmc","/c", "cls"</text>
<line class="l" x1="4533" y1="840" x2="4532" y2="885" marker-end="url(#a)"/>
<circle cx="4532" cy="895" r="9" fill="#fff" stroke="#111" stroke-width="1.3"/><circle cx="4532" cy="895" r="6" fill="#000"/>
<text class="s" x="4393" y="617" style="font-size:8px;text-anchor:start">Check the OS is "Windows" or not.</text>
<text class="s" x="4547" y="647" style="font-size:13px">No</text>
<text class="ss" x="4401" y="701">Yes</text>
</g>

<!-- watermark -->
<g>
<rect x="3739" y="55" width="940" height="300" rx="130" fill="#cfcfcf" filter="url(#sh)" opacity="0.8"/>
<rect x="3745" y="52" width="928" height="300" rx="130" fill="#fff"/>
<ellipse cx="3861" cy="205" rx="93" ry="103" fill="#8fd6f6" stroke="#2e6f80" stroke-width="6"/>
<g stroke="#fff" stroke-width="4" fill="none">
<line x1="3770" y1="160" x2="3952" y2="160"/><line x1="3770" y1="205" x2="3952" y2="205"/><line x1="3775" y1="250" x2="3947" y2="250"/>
<ellipse cx="3861" cy="205" rx="30" ry="100"/><ellipse cx="3861" cy="205" rx="65" ry="100"/>
</g>
<polygon points="3868,150 3930,220 3868,312 3835,270 3868,225 3850,205" fill="#cc3333"/>
<polygon points="3868,150 3805,220 3838,262 3868,225 3850,205 3868,180" fill="#d33a3a"/>
<polygon points="3868,180 3890,205 3868,232 3847,205" fill="#fff"/>
<text x="3976" y="148" font-family="Liberation Sans, sans-serif" font-size="50" fill="#8a8a8a" textLength="240" lengthAdjust="spacingAndGlyphs">Made with</text>
<text x="3976" y="230" font-family="Liberation Sans, sans-serif" font-size="86" font-weight="bold" fill="#3a3a3a" textLength="640" lengthAdjust="spacingAndGlyphs">VisualParadigm</text>
<text x="3976" y="293" font-family="Liberation Sans, sans-serif" font-size="52" fill="#8a8a8a" textLength="565" lengthAdjust="spacingAndGlyphs">For non-commercial use</text>
</g>
</svg>
</body></html>
